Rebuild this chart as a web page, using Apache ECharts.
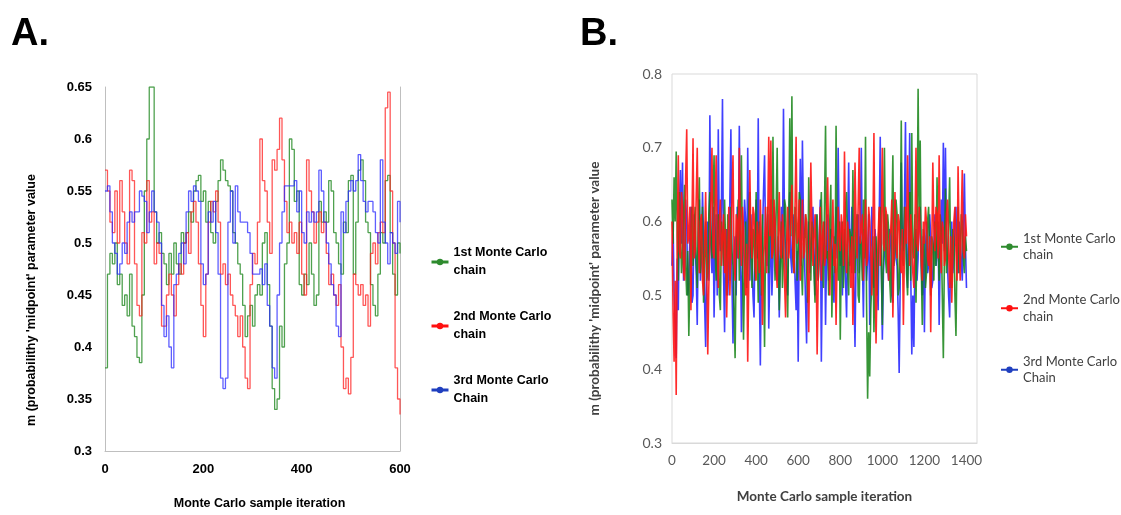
<!DOCTYPE html>
<html>
<head>
<meta charset="utf-8">
<script src="https://cdn.jsdelivr.net/npm/echarts@6/dist/echarts.min.js"></script>
<style>
html,body{margin:0;padding:0;background:#fff;}
#c{width:1121px;height:515px;}
</style>
</head>
<body>
<div id="c"></div>
<script>
// ---------- Panel A (sampled every 5 iterations, 0..600) ----------
const stepA = 5;
const greenA = [0.38,0.47,0.49,0.48,0.50,0.46,0.47,0.44,0.45,0.43,0.47,0.42,0.41,0.39,0.385,0.45,0.55,0.60,0.65,0.65,
0.53,0.50,0.51,0.49,0.48,0.46,0.49,0.47,0.50,0.48,0.47,0.51,0.50,0.51,0.53,0.52,0.55,0.56,0.565,0.54,
0.55,0.52,0.54,0.51,0.50,0.54,0.56,0.58,0.57,0.56,0.555,0.55,0.51,0.50,0.48,0.47,0.44,0.41,0.43,0.44,
0.42,0.45,0.46,0.45,0.50,0.51,0.46,0.42,0.36,0.34,0.35,0.42,0.40,0.48,0.50,0.60,0.59,0.54,0.55,0.46,
0.45,0.47,0.46,0.50,0.47,0.44,0.45,0.54,0.52,0.53,0.52,0.56,0.55,0.51,0.50,0.48,0.47,0.52,0.51,0.56,
0.565,0.47,0.52,0.57,0.58,0.56,0.52,0.51,0.46,0.44,0.43,0.47,0.51,0.50,0.56,0.565,0.51,0.47,0.45,0.50,0.49];
const redA = [0.57,0.55,0.52,0.51,0.55,0.50,0.56,0.53,0.50,0.48,0.57,0.56,0.48,0.44,0.43,0.51,0.50,0.56,0.52,0.53,
0.48,0.50,0.49,0.42,0.42,0.45,0.47,0.45,0.43,0.46,0.48,0.47,0.50,0.51,0.49,0.53,0.54,0.52,0.48,0.44,
0.41,0.47,0.52,0.54,0.53,0.55,0.52,0.47,0.48,0.46,0.47,0.45,0.44,0.43,0.41,0.43,0.40,0.37,0.36,0.46,
0.49,0.48,0.52,0.60,0.56,0.55,0.52,0.49,0.58,0.57,0.59,0.62,0.58,0.54,0.51,0.52,0.50,0.51,0.49,0.52,
0.47,0.45,0.58,0.55,0.53,0.50,0.52,0.53,0.51,0.52,0.49,0.46,0.47,0.45,0.44,0.46,0.40,0.36,0.37,0.355,
0.39,0.47,0.46,0.45,0.46,0.44,0.45,0.42,0.49,0.50,0.48,0.51,0.52,0.51,0.63,0.645,0.55,0.50,0.38,0.35,0.335];
const blueA = [0.55,0.555,0.53,0.50,0.49,0.47,0.48,0.50,0.49,0.52,0.53,0.52,0.53,0.53,0.55,0.545,0.54,0.51,0.53,0.55,
0.53,0.52,0.50,0.44,0.41,0.43,0.40,0.38,0.46,0.47,0.49,0.50,0.48,0.53,0.55,0.54,0.555,0.55,0.54,0.48,
0.46,0.47,0.53,0.52,0.54,0.51,0.47,0.37,0.36,0.37,0.52,0.55,0.50,0.555,0.53,0.52,0.52,0.52,0.51,0.49,
0.47,0.47,0.47,0.475,0.46,0.48,0.44,0.42,0.38,0.37,0.45,0.50,0.53,0.555,0.555,0.555,0.555,0.56,0.53,0.55,
0.51,0.50,0.53,0.52,0.53,0.52,0.53,0.57,0.55,0.52,0.50,0.48,0.46,0.45,0.42,0.41,0.53,0.51,0.54,0.55,
0.56,0.55,0.56,0.585,0.56,0.54,0.53,0.54,0.54,0.53,0.51,0.50,0.58,0.52,0.50,0.48,0.51,0.50,0.49,0.54,0.52];

// ---------- Panel B (sampled every 5 iterations, 0..1400) ----------
const stepB = 5;
const greenB = [0.63,0.57,0.66,0.60,0.695,0.58,0.52,0.64,0.60,0.53,0.55,0.61,0.65,0.54,0.50,0.56,0.445,0.52,0.58,0.62,
0.54,0.59,0.62,0.55,0.51,0.60,0.66,0.53,0.56,0.62,0.49,0.55,0.60,0.52,0.53,0.61,0.64,0.57,0.55,0.63,
0.69,0.56,0.52,0.58,0.61,0.50,0.48,0.60,0.58,0.54,0.63,0.57,0.50,0.61,0.57,0.52,0.62,0.56,0.54,0.48,
0.415,0.55,0.59,0.63,0.52,0.60,0.69,0.55,0.44,0.53,0.60,0.51,0.55,0.62,0.64,0.56,0.51,0.59,0.58,0.52,
0.64,0.57,0.49,0.60,0.56,0.50,0.61,0.54,0.43,0.58,0.57,0.62,0.53,0.59,0.63,0.55,0.715,0.58,0.52,0.61,
0.70,0.56,0.48,0.54,0.60,0.51,0.55,0.63,0.62,0.53,0.47,0.60,0.74,0.58,0.77,0.55,0.53,0.62,0.60,0.52,
0.56,0.64,0.63,0.54,0.50,0.57,0.58,0.61,0.54,0.49,0.66,0.58,0.52,0.60,0.59,0.53,0.49,0.57,0.61,0.52,
0.55,0.60,0.64,0.56,0.51,0.62,0.73,0.55,0.56,0.50,0.60,0.65,0.47,0.55,0.58,0.53,0.73,0.57,0.52,0.60,
0.44,0.56,0.60,0.51,0.55,0.62,0.64,0.54,0.50,0.59,0.58,0.53,0.67,0.56,0.53,0.60,0.61,0.50,0.49,0.58,
0.57,0.52,0.63,0.55,0.715,0.49,0.36,0.45,0.39,0.48,0.52,0.58,0.45,0.53,0.58,0.50,0.55,0.61,0.62,0.54,
0.46,0.57,0.70,0.55,0.53,0.61,0.59,0.52,0.49,0.60,0.69,0.54,0.56,0.63,0.61,0.50,0.51,0.58,0.737,0.55,
0.54,0.62,0.60,0.53,0.50,0.57,0.64,0.52,0.72,0.56,0.55,0.61,0.49,0.58,0.78,0.60,0.71,0.54,0.46,0.59,
0.58,0.51,0.53,0.60,0.62,0.55,0.50,0.58,0.57,0.52,0.60,0.54,0.66,0.57,0.52,0.61,0.59,0.50,0.415,0.55,
0.645,0.53,0.55,0.60,0.66,0.54,0.51,0.59,0.58,0.50,0.445,0.56,0.62,0.53,0.54,0.61,0.60,0.55,0.53,0.58,
0.56];
const redB = [0.60,0.48,0.41,0.52,0.365,0.58,0.69,0.56,0.55,0.64,0.62,0.53,0.52,0.66,0.725,0.57,0.58,0.62,0.48,0.60,
0.713,0.55,0.56,0.63,0.70,0.58,0.53,0.60,0.61,0.52,0.50,0.57,0.64,0.55,0.42,0.51,0.57,0.63,0.70,0.56,
0.55,0.62,0.69,0.57,0.51,0.60,0.63,0.54,0.58,0.61,0.53,0.59,0.47,0.55,0.62,0.50,0.56,0.63,0.69,0.55,
0.52,0.61,0.60,0.55,0.70,0.58,0.54,0.62,0.59,0.53,0.50,0.57,0.41,0.52,0.67,0.58,0.55,0.62,0.61,0.54,
0.52,0.60,0.58,0.53,0.63,0.56,0.46,0.55,0.57,0.62,0.53,0.60,0.715,0.58,0.71,0.55,0.56,0.63,0.60,0.54,
0.51,0.58,0.64,0.56,0.55,0.61,0.59,0.52,0.47,0.57,0.62,0.55,0.57,0.61,0.65,0.56,0.53,0.62,0.715,0.57,
0.58,0.63,0.52,0.57,0.63,0.55,0.56,0.61,0.60,0.53,0.45,0.56,0.68,0.60,0.54,0.58,0.61,0.55,0.42,0.52,
0.57,0.62,0.52,0.58,0.60,0.54,0.55,0.61,0.66,0.57,0.50,0.56,0.58,0.63,0.54,0.57,0.46,0.55,0.62,0.58,
0.56,0.61,0.59,0.54,0.695,0.57,0.53,0.60,0.60,0.56,0.51,0.58,0.46,0.55,0.68,0.60,0.55,0.62,0.70,0.57,
0.57,0.61,0.52,0.58,0.63,0.54,0.55,0.62,0.60,0.56,0.50,0.58,0.72,0.55,0.435,0.52,0.58,0.62,0.54,0.60,
0.70,0.57,0.56,0.62,0.61,0.55,0.52,0.58,0.59,0.63,0.47,0.55,0.64,0.57,0.55,0.61,0.60,0.54,0.53,0.59,
0.46,0.56,0.62,0.57,0.69,0.58,0.54,0.61,0.58,0.53,0.51,0.59,0.70,0.57,0.56,0.62,0.62,0.55,0.52,0.60,
0.57,0.62,0.60,0.55,0.54,0.58,0.45,0.56,0.68,0.59,0.56,0.62,0.61,0.55,0.69,0.57,0.53,0.60,0.59,0.54,
0.55,0.61,0.63,0.56,0.51,0.58,0.49,0.55,0.60,0.62,0.56,0.52,0.675,0.58,0.52,0.60,0.67,0.56,0.55,0.61,
0.58];
const blueB = [0.54,0.60,0.50,0.46,0.415,0.55,0.48,0.62,0.67,0.57,0.68,0.52,0.55,0.63,0.60,0.50,0.52,0.58,0.62,0.49,
0.50,0.61,0.57,0.53,0.46,0.58,0.63,0.52,0.55,0.64,0.58,0.49,0.43,0.56,0.60,0.52,0.744,0.57,0.53,0.62,
0.47,0.55,0.61,0.50,0.725,0.58,0.56,0.62,0.766,0.53,0.45,0.57,0.59,0.50,0.54,0.63,0.725,0.52,0.435,0.56,
0.58,0.50,0.62,0.55,0.73,0.58,0.45,0.53,0.57,0.63,0.60,0.51,0.70,0.56,0.52,0.61,0.56,0.50,0.47,0.58,
0.63,0.55,0.74,0.52,0.405,0.54,0.58,0.64,0.69,0.57,0.54,0.61,0.455,0.53,0.61,0.50,0.55,0.62,0.60,0.53,
0.52,0.58,0.47,0.56,0.62,0.55,0.753,0.59,0.56,0.51,0.50,0.60,0.64,0.55,0.53,0.61,0.59,0.52,0.48,0.56,
0.41,0.58,0.685,0.54,0.71,0.60,0.55,0.49,0.435,0.57,0.60,0.53,0.53,0.59,0.62,0.55,0.50,0.61,0.57,0.52,
0.58,0.63,0.41,0.54,0.55,0.60,0.46,0.56,0.61,0.52,0.53,0.59,0.58,0.52,0.49,0.57,0.62,0.55,0.70,0.58,
0.54,0.60,0.50,0.56,0.59,0.52,0.47,0.58,0.68,0.54,0.55,0.62,0.60,0.51,0.43,0.55,0.57,0.61,0.53,0.58,
0.70,0.55,0.47,0.59,0.58,0.52,0.55,0.61,0.46,0.56,0.62,0.54,0.51,0.59,0.57,0.52,0.48,0.60,0.715,0.55,
0.44,0.53,0.56,0.61,0.60,0.54,0.52,0.59,0.58,0.50,0.49,0.57,0.63,0.55,0.54,0.48,0.395,0.52,0.68,0.57,
0.56,0.62,0.735,0.55,0.51,0.60,0.72,0.53,0.42,0.50,0.43,0.55,0.59,0.52,0.55,0.61,0.62,0.54,0.50,0.58,
0.45,0.56,0.60,0.53,0.54,0.61,0.58,0.51,0.52,0.57,0.61,0.54,0.56,0.60,0.46,0.55,0.63,0.57,0.707,0.56,
0.70,0.58,0.54,0.50,0.47,0.56,0.60,0.53,0.55,0.61,0.62,0.54,0.53,0.60,0.58,0.55,0.52,0.59,0.665,0.57,
0.51];

const legendNames = {
  A1: '1st Monte Carlo\nchain', A2: '2nd Monte Carlo\nchain', A3: '3rd Monte Carlo\nChain',
  B1: '1st Monte Carlo\nchain', B2: '2nd Monte Carlo\nchain', B3: '3rd Monte Carlo\nChain'
};
const yTitle = "m (probabilithy 'midpoint' parameter value";
const xTitle = 'Monte Carlo sample iteration';

const pairs = (arr, step) => arr.map((v, i) => [i * step, v]);

const boldA = {fontFamily: 'Liberation Sans', fontWeight: 'bold', color: '#000'};
const fontB = {fontFamily: 'Lato', color: '#595959'};

const chart = echarts.init(document.getElementById('c'), null, {renderer: 'canvas'});
chart.setOption({
  animation: false,
  backgroundColor: '#fff',
  title: [
    {text: 'A.', left: 6, top: 11, textStyle: {fontFamily: 'Liberation Sans', fontWeight: 'bold', fontSize: 38, color: '#000'}},
    {text: 'B.', left: 575, top: 11, textStyle: {fontFamily: 'Liberation Sans', fontWeight: 'bold', fontSize: 38, color: '#000'}}
  ],
  grid: [
    {left: 105, width: 295, top: 87, height: 367},
    {left: 672, width: 305, top: 74, height: 369, show: true, borderColor: '#d9d9d9', borderWidth: 1, backgroundColor: 'transparent'}
  ],
  xAxis: [
    {type: 'value', gridIndex: 0, min: 0, max: 600, interval: 200,
     name: xTitle, nameLocation: 'middle', nameGap: 46,
     nameTextStyle: Object.assign({fontSize: 12.5, padding: [0, 0, 0, 14]}, boldA),
     axisLine: {lineStyle: {color: '#bfbfbf', width: 1}}, axisTick: {show: false}, splitLine: {show: false},
     axisLabel: Object.assign({fontSize: 13, margin: 12}, boldA)},
    {type: 'value', gridIndex: 1, min: 0, max: 1450, interval: 200,
     name: xTitle, nameLocation: 'middle', nameGap: 47,
     nameTextStyle: {fontFamily: 'Lato', fontWeight: 'bold', fontSize: 13.5, color: '#404040'},
     axisLine: {lineStyle: {color: '#d9d9d9', width: 1}}, axisTick: {show: false}, splitLine: {show: false},
     axisLabel: Object.assign({fontSize: 13.5, margin: 11, showMaxLabel: false, formatter: v => String(v)}, fontB)}
  ],
  yAxis: [
    {type: 'value', gridIndex: 0, min: 0.3, max: 0.65, interval: 0.05,
     name: yTitle, nameLocation: 'middle', nameGap: 67,
     nameTextStyle: Object.assign({fontSize: 12.5, padding: [0, 62, 0, 0]}, boldA),
     axisLine: {show: true, lineStyle: {color: '#bfbfbf', width: 1}}, axisTick: {show: false}, splitLine: {show: false},
     axisLabel: Object.assign({fontSize: 13, margin: 13}, boldA)},
    {type: 'value', gridIndex: 0, position: 'right', min: 0.3, max: 0.65, interval: 0.05,
     axisLine: {show: true, lineStyle: {color: '#bfbfbf', width: 1}}, axisTick: {show: false},
     axisLabel: {show: false}, splitLine: {show: false}},
    {type: 'value', gridIndex: 1, min: 0.3, max: 0.8, interval: 0.1,
     name: yTitle, nameLocation: 'middle', nameGap: 70,
     nameTextStyle: {fontFamily: 'Lato', fontWeight: 'bold', fontSize: 13.5, color: '#404040', padding: [0, 60, 0, 0]},
     axisLine: {show: false}, axisTick: {show: false}, splitLine: {show: false},
     axisLabel: Object.assign({fontSize: 14, margin: 10}, fontB)}
  ],
  legend: [
    {left: 430, top: 235, padding: 0, orient: 'vertical', itemWidth: 17, itemHeight: 8, itemGap: 10,
     data: [
       {name: 'A1', itemStyle: {color: '#2e8b2e'}, lineStyle: {color: '#2e8b2e', width: 3}},
       {name: 'A2', itemStyle: {color: '#ff1010'}, lineStyle: {color: '#ff1010', width: 3}},
       {name: 'A3', itemStyle: {color: '#1f3fbf'}, lineStyle: {color: '#1f3fbf', width: 3}}
     ],
     formatter: n => legendNames[n],
     textStyle: Object.assign({fontSize: 12.5, lineHeight: 18, padding: [18, 0, 0, 0]}, boldA)},
    {left: 1000, top: 222, padding: 0, orient: 'vertical', itemWidth: 17, itemHeight: 8, itemGap: 12,
     data: [
       {name: 'B1', itemStyle: {color: '#2e8b2e'}, lineStyle: {color: '#2e8b2e', width: 2}},
       {name: 'B2', itemStyle: {color: '#ff1010'}, lineStyle: {color: '#ff1010', width: 2}},
       {name: 'B3', itemStyle: {color: '#1f3fbf'}, lineStyle: {color: '#1f3fbf', width: 2}}
     ],
     formatter: n => legendNames[n],
     textStyle: {fontFamily: 'Lato', fontSize: 13, color: '#404040', lineHeight: 16.5, padding: [16.5, 0, 0, 0]}}
  ],
  series: [
    {name: 'A1', type: 'line', xAxisIndex: 0, yAxisIndex: 0, data: pairs(greenA, stepA), step: 'end',
     symbol: 'circle', showSymbol: false, color: '#2e8b2e', lineStyle: {width: 1.3, color: 'rgba(20,130,20,0.75)'}},
    {name: 'A2', type: 'line', xAxisIndex: 0, yAxisIndex: 0, data: pairs(redA, stepA), step: 'end',
     symbol: 'circle', showSymbol: false, color: '#ff1010', lineStyle: {width: 1.3, color: 'rgba(255,30,30,0.75)'}},
    {name: 'A3', type: 'line', xAxisIndex: 0, yAxisIndex: 0, data: pairs(blueA, stepA), step: 'end',
     symbol: 'circle', showSymbol: false, color: '#1f3fbf', lineStyle: {width: 1.3, color: 'rgba(40,40,255,0.75)'}},
    {name: 'B3', type: 'line', xAxisIndex: 1, yAxisIndex: 2, data: pairs(blueB, stepB),
     symbol: 'circle', showSymbol: false, color: '#1f3fbf', lineStyle: {width: 1.6, color: 'rgba(30,30,255,0.85)'}},
    {name: 'B1', type: 'line', xAxisIndex: 1, yAxisIndex: 2, data: pairs(greenB, stepB),
     symbol: 'circle', showSymbol: false, color: '#2e8b2e', lineStyle: {width: 1.6, color: 'rgba(20,130,20,0.85)'}},
    {name: 'B2', type: 'line', xAxisIndex: 1, yAxisIndex: 2, data: pairs(redB, stepB),
     symbol: 'circle', showSymbol: false, color: '#ff1010', lineStyle: {width: 1.6, color: 'rgba(255,20,20,0.9)'}}
  ]
});
</script>
</body>
</html>
